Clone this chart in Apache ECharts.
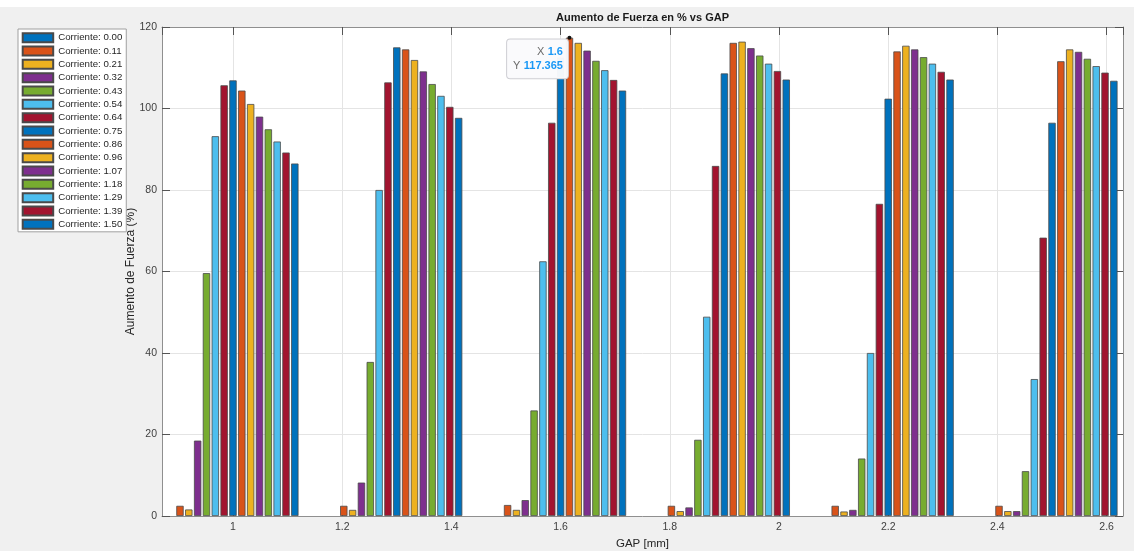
<!DOCTYPE html>
<html>
<head>
<meta charset="utf-8">
<script src="https://cdn.jsdelivr.net/npm/echarts@6/dist/echarts.min.js"></script>
<style>
html,body{margin:0;padding:0;background:#f0f0f0;}
#chart{width:1134px;height:551px;}
</style>
</head>
<body>
<div id="chart"></div>
<script>
// ---- data ----
const gaps = [1.0, 1.3, 1.6, 1.9, 2.2, 2.5];
const currents = ['0.00','0.11','0.21','0.32','0.43','0.54','0.64','0.75','0.86','0.96','1.07','1.18','1.29','1.39','1.50'];
const c000 = [0, 0, 0, 0, 0, 0];
const c011 = [2.5, 2.5, 2.7, 2.5, 2.5, 2.5];
const c021 = [1.6, 1.5, 1.5, 1.2, 1.1, 1.2];
const c032 = [18.5, 8.2, 3.9, 2.1, 1.5, 1.2];
const c043 = [59.6, 37.8, 25.9, 18.7, 14.1, 11.0];
const c054 = [93.2, 80.0, 62.5, 48.9, 40.0, 33.6];
const c064 = [105.7, 106.4, 96.5, 85.9, 76.6, 68.3];
const c075 = [106.9, 115.0, 112.5, 108.6, 102.4, 96.5];
const c086 = [104.4, 114.5, 117.365, 116.1, 114.0, 111.6];
const c096 = [101.1, 111.9, 116.1, 116.4, 115.4, 114.5];
const c107 = [98.0, 109.1, 114.2, 114.8, 114.5, 113.9];
const c118 = [94.9, 106.0, 111.7, 113.0, 112.6, 112.2];
const c129 = [91.9, 103.1, 109.4, 111.0, 111.0, 110.4];
const c139 = [89.2, 100.4, 107.0, 109.2, 109.0, 108.8];
const c150 = [86.5, 97.7, 104.4, 107.1, 107.1, 106.8];
const seriesValues = [c000, c011, c021, c032, c043, c054, c064, c075, c086, c096, c107, c118, c129, c139, c150];
const yTicks = [0, 20, 40, 60, 80, 100, 120];
// data tip: series index 8 (0.86) at gap index 2 (1.6)
const tipSeries = 8, tipGap = 2;

const palette = ['#0072BD','#D95319','#EDB120','#7E2F8E','#77AC30','#4DBEEE','#A2142F'];
const FONT = 'Liberation Sans, Arial, Helvetica, sans-serif';

const series = seriesValues.map(function (vals, si) {
  const s = {
    name: 'Corriente: ' + currents[si],
    type: 'bar',
    xAxisIndex: 0, yAxisIndex: 0,
    barGap: '20%',
    barCategoryGap: '20%',
    itemStyle: { color: palette[si % 7], borderColor: '#4a4a4a', borderWidth: 0.8 },
    emphasis: { disabled: true },
    data: vals.map(function (v, gi) {
      const d = { value: [gaps[gi], v] };
      if (v === 0) d.itemStyle = { borderWidth: 0 };
      return d;
    })
  };
  if (si === tipSeries) {
    const xv = gaps[tipGap], yv = vals[tipGap];
    s.markPoint = {
      symbol: 'circle', symbolSize: 4,
      itemStyle: { color: '#111', borderWidth: 0 },
      data: [{ coord: [xv, yv] }],
      label: {
        show: true,
        position: [0.5, 3.8],
        align: 'right', verticalAlign: 'top',
        backgroundColor: 'rgba(250,250,252,0.97)',
        borderColor: '#cfcfd4', borderWidth: 1, borderRadius: 3,
        padding: [6, 5, 6, 6],
        lineHeight: 13.4,
        fontFamily: FONT,
        formatter: '{k|X} {v|' + xv + '}\n{k|Y} {v|' + yv + '}',
        rich: {
          k: { color: '#6b6b6b', fontSize: 11, fontFamily: FONT, lineHeight: 13.4 },
          v: { color: '#1a98f5', fontSize: 11, fontWeight: 'bold', fontFamily: FONT, lineHeight: 13.4 }
        }
      }
    };
  }
  return s;
});

const xCommon = {
  type: 'value', min: 0.87, max: 2.63, splitNumber: 9, minInterval: 0.2, maxInterval: 0.2
};
const yCommon = {
  type: 'value', min: yTicks[0], max: yTicks[yTicks.length - 1], interval: yTicks[1] - yTicks[0]
};
const axisLineStyle = { show: true, onZero: false, lineStyle: { color: '#8f8f8f', width: 1 } };
const tickStyle = { show: true, inside: true, length: 8, lineStyle: { color: '#555', width: 1 } };

const chart = echarts.init(document.getElementById('chart'), null, { renderer: 'canvas' });
chart.setOption({
  animation: false,
  backgroundColor: '#f0f0f0',
  textStyle: { fontFamily: FONT },
  grid: { left: 162, top: 27, width: 961, height: 489, show: true, backgroundColor: '#ffffff', borderWidth: 0,
          containLabel: false, outerBoundsMode: 'none' },
  graphic: [
    { type: 'rect', left: 0, top: 0, shape: { width: 1134, height: 7 }, style: { fill: '#ffffff' }, silent: true },
    { type: 'text', x: 642.5, y: 18.3, silent: true,
      style: { text: 'Aumento de Fuerza en % vs GAP', align: 'center', verticalAlign: 'middle',
        font: 'bold 11px ' + FONT, fill: '#1a1a1a' } }
  ],
  legend: {
    orient: 'vertical', left: 18, top: 29,
    icon: 'rect', itemWidth: 30.5, itemHeight: 9, itemGap: 2.33,
    padding: [3.2, 4, 2, 3.7],
    backgroundColor: '#ffffff', borderColor: '#a0a0a0', borderWidth: 1,
    selectedMode: false,
    textStyle: { fontSize: 9.7, lineHeight: 10, color: '#262626', fontFamily: FONT },
    data: series.map(function (s) { return s.name; })
  },
  xAxis: [
    Object.assign({}, xCommon, {
      position: 'bottom',
      name: 'GAP [mm]', nameLocation: 'middle', nameGap: 22, nameMoveOverlap: false,
      nameTextStyle: { fontSize: 11.5, color: '#262626', fontFamily: FONT },
      axisLine: axisLineStyle, axisTick: tickStyle,
      axisLabel: { show: true, margin: 6, fontSize: 10.5, color: '#404040', fontFamily: FONT, showMinLabel: false, showMaxLabel: false },
      splitLine: { show: true, lineStyle: { color: '#e4e4e4', width: 1 } }
    }),
    Object.assign({}, xCommon, {
      position: 'top',
      axisLine: axisLineStyle, axisTick: tickStyle,
      axisLabel: { show: false }, splitLine: { show: false }
    })
  ],
  yAxis: [
    Object.assign({}, yCommon, {
      position: 'left',
      name: 'Aumento de Fuerza (%)', nameLocation: 'middle', nameGap: 25, nameMoveOverlap: false,
      nameTextStyle: { fontSize: 12, color: '#262626', fontFamily: FONT },
      axisLine: axisLineStyle, axisTick: tickStyle,
      axisLabel: { show: true, margin: 5, fontSize: 10.5, color: '#404040', fontFamily: FONT },
      splitLine: { show: true, lineStyle: { color: '#e4e4e4', width: 1 } }
    }),
    Object.assign({}, yCommon, {
      position: 'right',
      axisLine: axisLineStyle, axisTick: tickStyle,
      axisLabel: { show: false }, splitLine: { show: false }
    })
  ],
  series: series
});
</script>
</body>
</html>
